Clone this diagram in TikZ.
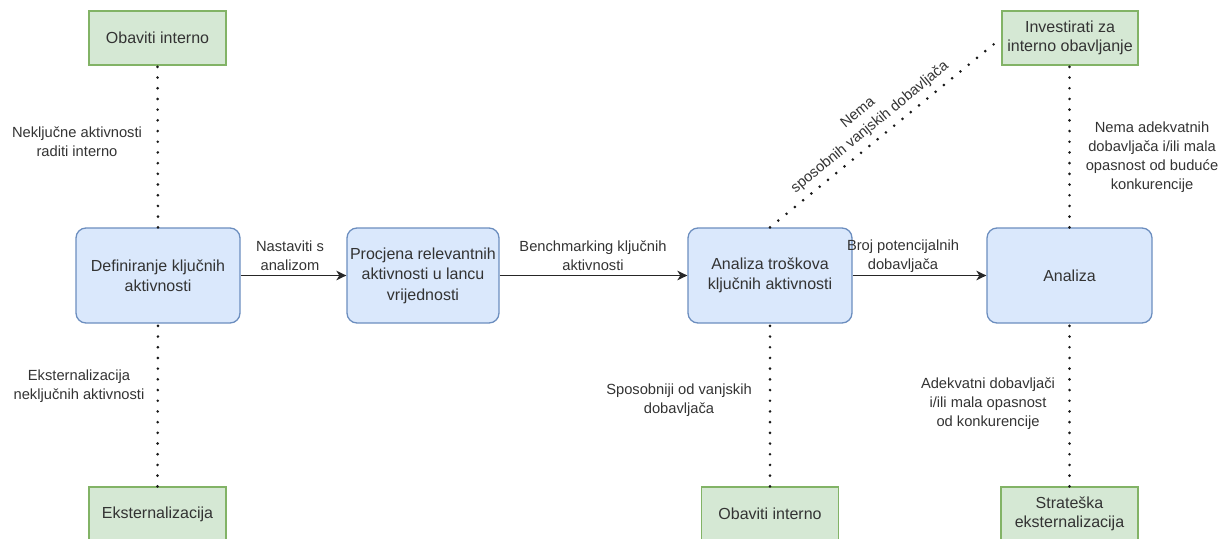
\documentclass[tikz,border=0pt]{standalone}
\usepackage{fontspec}
\setmainfont{Liberation Sans}
\usetikzlibrary{arrows.meta}
\definecolor{bfill}{HTML}{DAE8FC}
\definecolor{bdraw}{HTML}{6C8EBF}
\definecolor{gfill}{HTML}{D5E8D4}
\definecolor{gdraw}{HTML}{82B366}
\definecolor{txt}{HTML}{333333}
\begin{document}
\begin{tikzpicture}[x=1pt,y=1pt,
 bluebox/.style={draw=bdraw, fill=bfill, line width=1.3pt, rounded corners=10pt, minimum width=164pt, minimum height=95pt, inner sep=0pt, align=center, font=\fontsize{16}{20.5}\selectfont, text=txt},
 greenbox/.style={draw=gdraw, fill=gfill, line width=1.3pt, minimum width=137pt, minimum height=54pt, inner sep=0pt, align=center, font=\fontsize{16}{19.5}\selectfont, text=txt},
 lbl/.style={align=center, font=\fontsize{14.7}{19}\selectfont, text=txt, inner sep=0pt},
 dots/.style={line width=2.9pt, line cap=round, dash pattern=on 0pt off 10.7pt, color=black!90},
 arr/.style={line width=1.7pt, color=black!85, -{Stealth[length=10pt,width=9.5pt,inset=3pt]}}
]
\useasboundingbox (0,0) rectangle (1228,-538);

% main boxes
\node[bluebox] (b1) at (158,-275.5) {Definiranje ključnih\\aktivnosti};
\node[bluebox, minimum width=152pt] (b2) at (423,-275.5) {Procjena relevantnih\\aktivnosti u lancu\\vrijednosti};
\node[bluebox] (b3) at (770,-275.5) {Analiza troškova\\ključnih aktivnosti};
\node[bluebox, minimum width=165pt] (b4) at (1069.5,-275.5) {Analiza};

% outcome boxes
\node[greenbox] (gTL) at (157.5,-38) {Obaviti interno};
\node[greenbox] (gBL) at (157.5,-514) {Eksternalizacija};
\node[greenbox] (gBM) at (770,-514) {Obaviti interno};
\node[greenbox] (gBR) at (1069.5,-514) {Strateška\\eksternalizacija};
\node[greenbox, minimum width=136pt] (gTR) at (1070,-38) {Investirati za\\interno obavljanje};

% arrows
\draw[arr] (b1) -- (b2);
\draw[arr] (b2) -- (b3);
\draw[arr] (b3) -- (b4);

% dotted connectors
\draw[dots] (b1.north) -- (gTL.south);
\draw[dots] (gBL.north) -- (b1.south);
\draw[dots] (gBM.north) -- (b3.south);
\draw[dots] (b3.north) -- (gTR.west);
\draw[dots] (b4.north) -- (b4.north |- gTR.south);
\draw[dots] (gBR.north) -- (b4.south);

% labels
\node[lbl] (l1) at (77,-142) {Neključne aktivnosti\\raditi interno};
\node[lbl] (l2) at (79,-386) {Eksternalizacija\\neključnih aktivnosti};
\node[lbl] (l3) at (290,-256) {Nastaviti s\\analizom};
\node[lbl] (l4) at (593,-256) {Benchmarking ključnih\\aktivnosti};
\node[lbl] (l5) at (903,-256) {Broj potencijalnih\\dobavljača};
\node[lbl] (l6) at (679,-400) {Sposobniji od vanjskih\\dobavljača};
\node[lbl] (l7) at (988,-404) {Adekvatni dobavljači\\i/ili mala opasnost\\od konkurencije};
\node[lbl] (l8) at (1152,-157) {Nema adekvatnih\\dobavljača i/ili mala\\opasnost od buduće\\konkurencije};
\node[lbl, rotate=39.3] (l9) at (864.2,-120.5) {Nema\\sposobnih vanjskih dobavljača};
\end{tikzpicture}
\end{document}
